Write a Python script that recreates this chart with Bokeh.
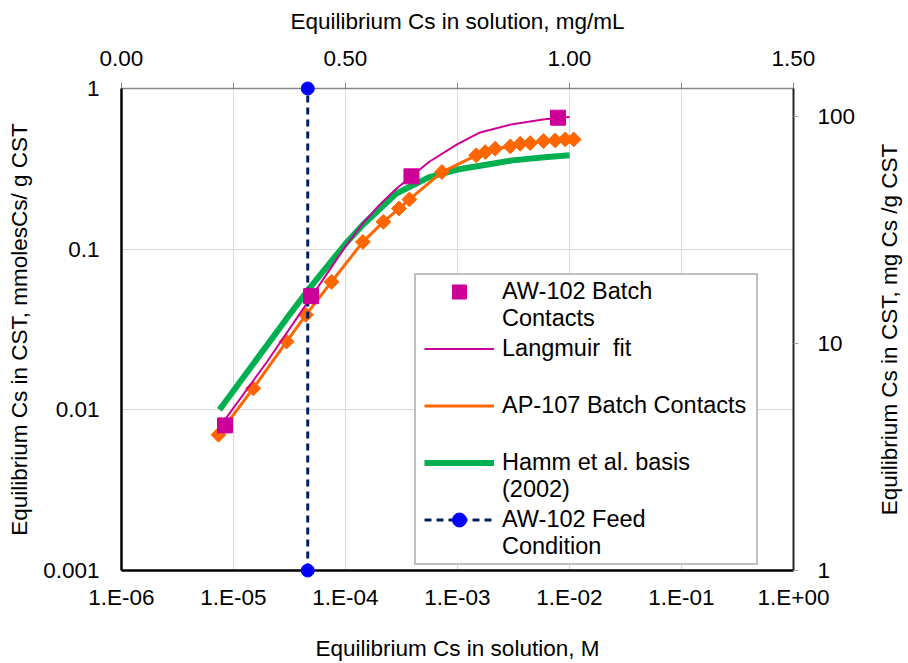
import math
from bokeh.plotting import figure
from bokeh.models import (Range1d, LogScale, LinearScale, LinearAxis, LogAxis, FixedTicker,
                          CustomJSTickFormatter, Legend, LegendItem, Label)
from bokeh.embed import file_html
from bokeh.resources import INLINE

FONT = "Liberation Sans"

# ---------------- data ----------------
# bottom axis: equilibrium Cs in solution, M ; left axis: mmol Cs / g CST
x_ticks = [1e-6, 1e-5, 1e-4, 1e-3, 1e-2, 1e-1, 1.0]
x_tick_labels = ["1.E-06", "1.E-05", "1.E-04", "1.E-03", "1.E-02", "1.E-01", "1.E+00"]
y_ticks = [0.001, 0.01, 0.1, 1.0]
y_tick_labels = ["0.001", "0.01", "0.1", "1"]
top_ticks = [0.0, 0.5, 1.0, 1.5]
top_minor_ticks = [0.25, 0.75, 1.25]
top_tick_labels = ["0.00", "0.50", "1.00", "1.50"]
right_ticks = [1, 10, 100]
right_tick_labels = ["1", "10", "100"]
right_range_end = 132.9   # mg Cs per mmol Cs

aw102_c = [8.4e-6, 4.93e-5, 3.88e-4, 7.9e-3]
aw102_q = [0.0080, 0.051, 0.284, 0.658]

lang_c = [8.0e-6, 2.0e-5, 5.0e-5, 1.0e-4, 1.43e-4, 2.0e-4, 2.84e-4, 3.88e-4,
          5.6e-4, 1.0e-3, 1.56e-3, 3.1e-3, 6.0e-3, 1.0e-2]
lang_q = [0.0083, 0.020, 0.051, 0.104, 0.145, 0.188, 0.238, 0.284,
          0.350, 0.450, 0.530, 0.600, 0.643, 0.665]

ap107_c = [7.35e-6, 1.5e-5, 2.98e-5, 4.43e-5, 7.5e-5, 1.43e-4, 2.18e-4, 3.0e-4,
           3.72e-4, 7.26e-4, 1.47e-3, 1.77e-3, 2.17e-3, 2.96e-3, 3.63e-3,
           4.46e-3, 5.86e-3, 7.45e-3, 9.16e-3, 1.09e-2]
ap107_q = [0.0070, 0.0136, 0.0266, 0.039, 0.0626, 0.111, 0.148, 0.179,
           0.204, 0.302, 0.384, 0.402, 0.422, 0.436, 0.453,
           0.457, 0.471, 0.475, 0.482, 0.482]

hamm_c = [7.5e-6, 1.5e-5, 3.0e-5, 4.8e-5, 1.0e-4, 1.43e-4, 2.84e-4, 5.6e-4,
          1.0e-3, 1.92e-3, 3.1e-3, 6.0e-3, 1.0e-2]
hamm_q = [0.010, 0.0193, 0.0372, 0.0575, 0.108, 0.142, 0.222, 0.281,
          0.313, 0.338, 0.357, 0.373, 0.384]

feed_c = [4.6e-5, 4.6e-5]
feed_q = [0.001, 1.0]

legend_labels = ["AW-102 Batch\nContacts", "Langmuir  fit\n ", "AP-107 Batch Contacts \n ",
                 "Hamm et al. basis\n(2002)", "AW-102 Feed\nCondition"]
right_title = "Equilibrium Cs in CST, mg Cs /g CST"

# ---------------- figure ----------------
p = figure(width=908, height=663, x_axis_type="log", y_axis_type="log",
           x_range=Range1d(x_ticks[0], x_ticks[-1]),
           y_range=Range1d(y_ticks[0], y_ticks[-1]),
           output_backend="svg", toolbar_location=None,
           min_border_left=121, min_border_right=115,
           min_border_top=88, min_border_bottom=92)
p.outline_line_color = None
p.background_fill_color = "white"
p.border_fill_color = "white"

log_code = """
let best = 0, bd = Infinity;
for (let i = 0; i < tvals.length; i++) {
  const d = Math.abs(Math.log(tick) - Math.log(tvals[i]));
  if (d < bd) { bd = d; best = i; }
}
return tlabels[best];
"""
lin_code = """
let best = 0, bd = Infinity;
for (let i = 0; i < tvals.length; i++) {
  const d = Math.abs(tick - tvals[i]);
  if (d < bd) { bd = d; best = i; }
}
return tlabels[best];
"""

def fmt(vals, labels, code):
    return CustomJSTickFormatter(args=dict(tvals=vals, tlabels=labels), code=code)

def style_axis(ax):
    ax.major_label_text_font = FONT
    ax.major_label_text_font_size = "22.5px"
    ax.major_label_text_color = "black"
    ax.axis_label_text_font = FONT
    ax.axis_label_text_font_size = "22.5px"
    ax.axis_label_text_font_style = "normal"
    ax.axis_label_text_color = "black"
    ax.minor_tick_line_color = None
    ax.major_tick_in = 0

xb = p.xaxis[0]
xb.ticker = FixedTicker(ticks=x_ticks)
xb.formatter = fmt(x_ticks, x_tick_labels, log_code)
style_axis(xb)
xb.axis_label = "Equilibrium Cs in solution, M"
xb.axis_line_color = "black"
xb.axis_line_width = 2.5
xb.major_tick_out = 0
xb.major_tick_line_color = None
xb.major_label_standoff = 14
xb.axis_label_standoff = 23

yl = p.yaxis[0]
yl.ticker = FixedTicker(ticks=y_ticks)
yl.formatter = fmt(y_ticks, y_tick_labels, log_code)
style_axis(yl)
yl.axis_label = "Equilibrium Cs in CST, mmolesCs/ g CST"
yl.axis_line_color = "black"
yl.axis_line_width = 2.5
yl.major_tick_out = 0
yl.major_tick_line_color = None
yl.major_label_standoff = 22
yl.axis_label_standoff = 8

p.xgrid.grid_line_color = "#d9d9d9"
p.ygrid.grid_line_color = "#d9d9d9"
p.xgrid.grid_line_width = 1
p.ygrid.grid_line_width = 1

# top linear axis (mg/mL)
p.extra_x_ranges = {"top": Range1d(top_ticks[0], top_ticks[-1])}
p.extra_x_scales = {"top": LinearScale()}
xt = LinearAxis(x_range_name="top",
                ticker=FixedTicker(ticks=top_ticks, minor_ticks=top_minor_ticks),
                formatter=fmt(top_ticks, top_tick_labels, lin_code))
style_axis(xt)
xt.axis_label = "Equilibrium Cs in solution, mg/mL"
xt.axis_line_color = "#868686"
xt.axis_line_width = 1.5
xt.major_tick_line_color = "#868686"
xt.minor_tick_line_color = "#868686"
xt.major_tick_out = 6
xt.minor_tick_out = 6
xt.minor_tick_in = 0
xt.major_label_standoff = 17
xt.axis_label_standoff = 14
p.add_layout(xt, "above")

# right log axis (mg Cs / g CST)
p.extra_y_ranges = {"right": Range1d(right_ticks[0], right_range_end)}
p.extra_y_scales = {"right": LogScale()}
yr = LogAxis(y_range_name="right", ticker=FixedTicker(ticks=right_ticks),
             formatter=fmt(right_ticks, right_tick_labels, log_code))
style_axis(yr)
yr.axis_line_color = "#262626"
yr.axis_line_width = 2
yr.major_tick_line_color = "#a6a6a6"
yr.major_tick_out = 5
yr.major_label_standoff = 19
p.add_layout(yr, "right")

# right-axis title (reads bottom to top), placed in its own side panel
right_label = Label(x=18, y=241, x_units="screen", y_units="screen",
                    text=right_title, angle=math.pi / 2,
                    text_align="center", text_baseline="top",
                    text_font=FONT, text_font_size="22.5px", text_color="black")
p.add_layout(right_label, "right")

# ---------------- series ----------------
r_hamm = p.line(hamm_c, hamm_q, line_color="#00b050", line_width=6)
r_ap_l = p.line(ap107_c, ap107_q, line_color="#ff6600", line_width=3)
r_ap_m = p.scatter(ap107_c, ap107_q, marker="square", angle=math.pi / 4, size=10.5,
                   color="#ff6600")
r_lang = p.line(lang_c, lang_q, line_color="#cc0099", line_width=2)
r_feed_l = p.line(feed_c, feed_q, line_color="#002060", line_width=3, line_dash="7 5")
r_aw = p.scatter(aw102_c, aw102_q, marker="square", size=15, color="#cc0099")
r_feed_m = p.scatter(feed_c, feed_q, marker="circle", size=13, color="#0000ff",
                     level="overlay")
# empty renderers used only for legend samples
r_blank = p.scatter([], [], size=1, fill_alpha=0, line_alpha=0)
r_ap_leg = p.scatter([], [], marker="diamond", size=14, color="#ff6600")

# text part of the legend (box + labels)
legend_text = Legend(items=[LegendItem(label=lab, renderers=[r_blank]) for lab in legend_labels],
                     location=(293, 5))
legend_text.label_text_font = FONT
legend_text.label_text_font_size = "23.5px"
legend_text.label_text_line_height = 1.13
legend_text.label_text_color = "black"
legend_text.border_line_color = "#808080"
legend_text.border_line_width = 2
legend_text.background_fill_color = "white"
legend_text.background_fill_alpha = 1
legend_text.padding = 3
legend_text.margin = 0
legend_text.spacing = 3
legend_text.glyph_width = 77
legend_text.glyph_height = 20
legend_text.label_height = 54
legend_text.label_standoff = 6
p.add_layout(legend_text, "center")

# sample-glyph part of the legend, aligned with each entry's first text line
legend_glyph = Legend(items=[
    LegendItem(label=" ", renderers=[r_aw]),
    LegendItem(label=" ", renderers=[r_lang]),
    LegendItem(label=" ", renderers=[r_ap_l, r_ap_leg]),
    LegendItem(label=" ", renderers=[r_hamm]),
    LegendItem(label=" ", renderers=[r_feed_l, r_feed_m]),
], location=(303, 33))
legend_glyph.label_text_font_size = "8px"
legend_glyph.border_line_color = None
legend_glyph.background_fill_alpha = 0
legend_glyph.padding = 0
legend_glyph.margin = 0
legend_glyph.spacing = 22
legend_glyph.glyph_width = 70
legend_glyph.glyph_height = 35
legend_glyph.label_height = 35
legend_glyph.label_standoff = 0
p.add_layout(legend_glyph, "center")

open("out.html", "w").write(file_html(p, INLINE))
